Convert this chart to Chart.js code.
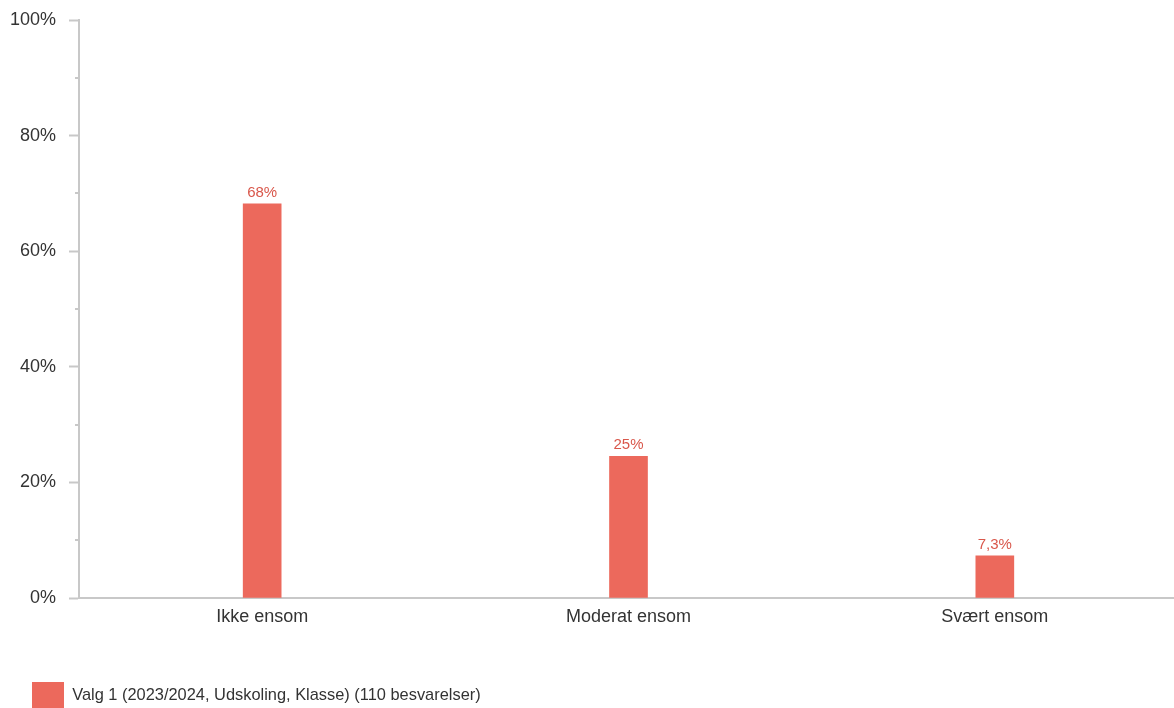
<!DOCTYPE html>
<html>
<head>
<meta charset="utf-8">
<script src="https://cdn.jsdelivr.net/npm/chart.js@4"></script>
<style>
  html, body { margin: 0; padding: 0; background: #fff; overflow: hidden; }
  #wrap { width: 1178px; height: 708px; position: relative; }
</style>
</head>
<body>
<div id="wrap"><canvas id="chart"></canvas></div>
<script>
var categories = ["Ikke ensom", "Moderat ensom", "Svært ensom"];
var values = [68.2, 24.5, 7.3];
var seriesName = "Valg 1 (2023/2024, Udskoling, Klasse) (110 besvarelser)";
var yTicks = [0, 20, 40, 60, 80, 100];

var font = "'Liberation Sans', Arial, sans-serif";
var barColor = "#ec695c";
var labelColor = "#d9574b";
var axisColor = "#c8c8c8";

function fmt(v) {
    return v.toPrecision(2).replace(".", ",") + "%";
}

// value labels above the bars
var barLabels = {
    id: "barLabels",
    afterDatasetsDraw: function(chart) {
        var ctx = chart.ctx;
        var meta = chart.getDatasetMeta(0);
        ctx.save();
        ctx.font = "15px " + font;
        ctx.fillStyle = labelColor;
        ctx.textAlign = "center";
        ctx.textBaseline = "alphabetic";
        meta.data.forEach(function(bar, i) {
            ctx.fillText(fmt(values[i]), bar.x, bar.y - 7);
        });
        ctx.restore();
    }
};

// short minor ticks between the labelled ones
var minorTicks = {
    id: "minorTicks",
    afterDraw: function(chart) {
        var y = chart.scales.y;
        var ctx = chart.ctx;
        ctx.save();
        ctx.strokeStyle = axisColor;
        ctx.lineWidth = 2;
        for (var v = 10; v < 100; v += 20) {
            var py = Math.round(y.getPixelForValue(v));
            ctx.beginPath();
            ctx.moveTo(y.right - 4, py);
            ctx.lineTo(y.right, py);
            ctx.stroke();
        }
        ctx.restore();
    }
};

var ctx = document.getElementById("chart");
var chart = new Chart(ctx, {
    type: "bar",
    data: {
        labels: categories,
        datasets: [{
            label: seriesName,
            data: values,
            backgroundColor: barColor,
            borderWidth: 0,
            barThickness: 38
        }]
    },
    options: {
        responsive: true,
        maintainAspectRatio: false,
        animation: false,
        layout: { padding: { left: 0, right: 0, top: 20, bottom: -10 } },
        plugins: {
            tooltip: { enabled: false },
            legend: {
                position: "bottom",
                align: "start",
                labels: {
                    boxWidth: 32,
                    boxHeight: 26,
                    padding: 32,
                    color: "#333",
                    font: { family: font, size: 16.4 }
                }
            }
        },
        scales: {
            x: {
                grid: { display: false, drawTicks: false },
                border: { color: axisColor, width: 2 },
                ticks: { color: "#333", padding: 8, font: { family: font, size: 18 } },
                afterFit: function(s) { s.height = 52; }
            },
            y: {
                min: 0,
                max: 100,
                afterFit: function(s) {
                    s.width = 79;
                    s.paddingTop = 0;
                },
                afterBuildTicks: function(s) {
                    s.ticks = yTicks.map(function(v) { return { value: v }; });
                },
                grid: {
                    drawOnChartArea: false,
                    tickLength: 10,
                    tickWidth: 2,
                    tickColor: axisColor
                },
                border: { color: axisColor, width: 2 },
                ticks: {
                    color: "#333",
                    padding: 13,
                    autoSkip: false,
                    font: { family: font, size: 18 },
                    callback: function(v) { return v + "%"; }
                }
            }
        }
    },
    plugins: [barLabels, minorTicks]
});
</script>
</body>
</html>
